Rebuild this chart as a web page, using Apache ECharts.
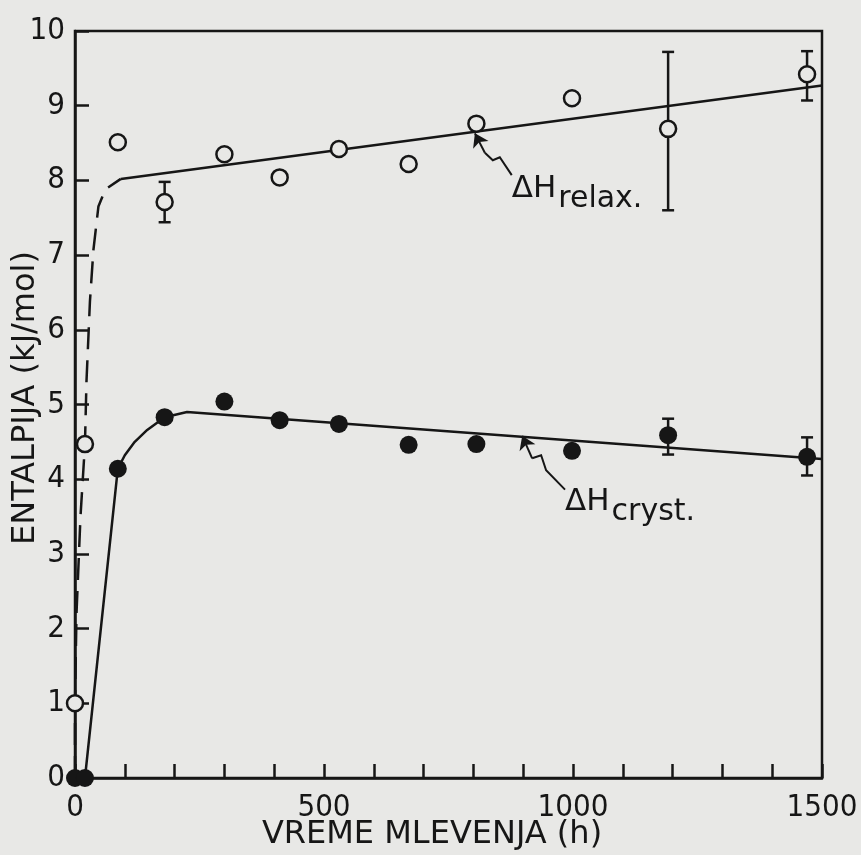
<!DOCTYPE html>
<html>
<head>
<meta charset="utf-8">
<script src="https://cdn.jsdelivr.net/npm/echarts@6/dist/echarts.min.js"></script>
<style>
html, body { margin: 0; padding: 0; background: #e8e8e6; }
#chart { width: 861px; height: 855px; }
</style>
</head>
<body>
<div id="chart"></div>
<script>
// milling time (h) shared by both measured series
var hours = [0, 20, 86, 180, 300, 411, 530, 670, 806, 998, 1191, 1470];
var relaxValues = [1.0, 4.47, 8.51, 7.71, 8.35, 8.04, 8.42, 8.22, 8.76, 9.10, 8.69, 9.42];
var crystValues = [0, 0, 4.14, 4.83, 5.04, 4.79, 4.74, 4.46, 4.47, 4.38, 4.59, 4.30];
// error bars (null = none)
var relaxLow = [null, null, null, 7.44, null, null, null, null, null, null, 7.60, 9.07];
var relaxHigh = [null, null, null, 7.98, null, null, null, null, null, null, 9.72, 9.73];
var crystLow = [null, null, null, null, null, null, null, null, null, null, 4.33, 4.05];
var crystHigh = [null, null, null, null, null, null, null, null, null, null, 4.81, 4.56];

// drawn curves
var relaxRiseX = [0, 0, 3, 11, 20, 23, 30, 37, 47, 61, 92];
var relaxRiseY = [0, 1.0, 2.2, 3.5, 4.47, 5.3, 6.38, 7.07, 7.65, 7.88, 8.02];
var relaxFitX = [92, 1500];
var relaxFitY = [8.02, 9.27];
var crystFitX = [20, 86, 100, 120, 145, 180, 225, 1500];
var crystFitY = [0, 4.14, 4.32, 4.50, 4.66, 4.83, 4.90, 4.27];

var xTicks = [0, 500, 1000, 1500];

var ink = '#161616';
var paper = '#e8e8e6';
var numFont = "'Liberation Sans Narrow', 'DejaVu Sans Condensed', 'Liberation Sans', sans-serif";
var textFont = "'DejaVu Sans', 'Liberation Sans', sans-serif";

function zip(a, b) {
    return a.map(function (v, i) { return [v, b[i]]; });
}
function bars(low, high) {
    var out = [];
    hours.forEach(function (h, i) {
        if (low[i] != null) out.push([h, low[i], high[i]]);
    });
    return out;
}

var chart = echarts.init(document.getElementById('chart'));

chart.setOption({
    backgroundColor: paper,
    animation: false,
    grid: {
        left: 75, right: 39, top: 31, bottom: 77,
        show: true, borderColor: ink, borderWidth: 2.5
    },
    xAxis: {
        type: 'value', min: 0, max: 1500, interval: 100,
        axisLine: { lineStyle: { color: ink, width: 2.5 } },
        axisTick: { inside: true, length: 14, lineStyle: { color: ink, width: 2.5 } },
        splitLine: { show: false },
        axisLabel: {
            color: ink, fontFamily: numFont, fontSize: 31, margin: 14,
            formatter: function (v) { return xTicks.indexOf(v) >= 0 ? String(v) : ''; }
        }
    },
    yAxis: {
        type: 'value', min: 0, max: 10, interval: 1,
        axisLine: { lineStyle: { color: ink, width: 2.5 } },
        axisTick: { inside: true, length: 14, lineStyle: { color: ink, width: 2.5 } },
        splitLine: { show: false },
        axisLabel: { color: ink, fontFamily: numFont, fontSize: 31, margin: 10 }
    },
    series: [
        {
            type: 'line', data: zip(relaxRiseX, relaxRiseY), symbol: 'none',
            lineStyle: { color: ink, width: 2.5, type: [22, 11] }, z: 2
        },
        {
            type: 'line', data: zip(relaxFitX, relaxFitY), symbol: 'none',
            lineStyle: { color: ink, width: 2.5 }, z: 2
        },
        {
            type: 'line', data: zip(crystFitX, crystFitY), symbol: 'none',
            lineStyle: { color: ink, width: 2.5 }, z: 2
        },
        {
            type: 'custom', z: 3,
            data: bars(relaxLow, relaxHigh).concat(bars(crystLow, crystHigh)),
            renderItem: function (params, api) {
                var x = api.value(0);
                var lo = api.coord([x, api.value(1)]);
                var hi = api.coord([x, api.value(2)]);
                var w = 6;
                var st = { stroke: ink, lineWidth: 2.5 };
                return {
                    type: 'group',
                    children: [
                        { type: 'line', shape: { x1: lo[0], y1: lo[1], x2: hi[0], y2: hi[1] }, style: st },
                        { type: 'line', shape: { x1: lo[0] - w, y1: lo[1], x2: lo[0] + w, y2: lo[1] }, style: st },
                        { type: 'line', shape: { x1: hi[0] - w, y1: hi[1], x2: hi[0] + w, y2: hi[1] }, style: st }
                    ]
                };
            }
        },
        {
            type: 'scatter', data: zip(hours, relaxValues), symbol: 'circle', symbolSize: 16,
            itemStyle: { color: paper, borderColor: ink, borderWidth: 2.5, opacity: 1 }, z: 4
        },
        {
            type: 'scatter', data: zip(hours, crystValues), symbol: 'circle', symbolSize: 18,
            itemStyle: { color: ink, opacity: 1 }, z: 4
        },
        // annotation arrows
        {
            type: 'lines', coordinateSystem: 'cartesian2d', polyline: true, z: 5,
            lineStyle: { color: ink, width: 2, opacity: 1 },
            data: [
                { coords: [[823, 8.37], [839, 8.27], [853, 8.31], [877, 8.07]] },
                { coords: [[918, 4.28], [936, 4.32], [946, 4.12], [984, 3.86]] }
            ]
        },
        {
            type: 'lines', coordinateSystem: 'cartesian2d', z: 5,
            symbol: ['arrow', 'none'], symbolSize: 13,
            lineStyle: { color: ink, width: 2, opacity: 1 },
            data: [
                { coords: [[803, 8.63], [823, 8.37]] },
                { coords: [[898, 4.58], [918, 4.28]] }
            ]
        }
    ]
});

// text placed after layout so it follows the axes
var ctx = document.createElement('canvas').getContext('2d');
function textW(s, font) {
    ctx.font = font;
    return ctx.measureText(s).width;
}
function label(at, sub) {
    var p = chart.convertToPixel({ gridIndex: 0 }, at);
    var bigFont = '31px ' + textFont;
    var w = textW('ΔH', bigFont);
    return [
        { type: 'text', x: p[0], y: p[1], style: { text: 'ΔH', font: bigFont, fill: ink, verticalAlign: 'bottom' } },
        { type: 'text', x: p[0] + w + 2, y: p[1] + 10, style: { text: sub, font: '30px ' + textFont, fill: ink, verticalAlign: 'bottom' } }
    ];
}

chart.setOption({
    graphic: [
        {
            type: 'text', x: 26, y: 398, rotation: Math.PI / 2,
            style: { text: 'ENTALPIJA (kJ/mol)', font: '32px ' + textFont, fill: ink, align: 'center', verticalAlign: 'middle' }
        },
        {
            type: 'text', x: 432, y: 835,
            style: { text: 'VREME MLEVENJA (h)', font: '32px ' + textFont, fill: ink, align: 'center', verticalAlign: 'middle' }
        }
    ].concat(label([877, 7.68], 'relax.'), label([984, 3.49], 'cryst.'))
});
</script>
</body>
</html>
